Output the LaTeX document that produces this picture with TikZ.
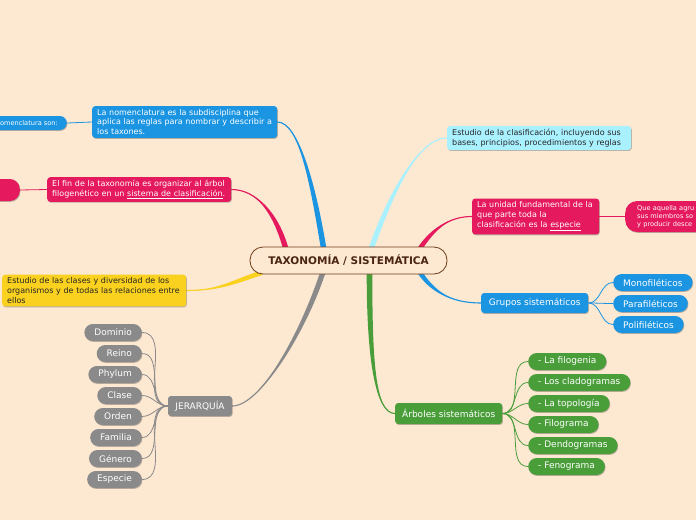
\documentclass[tikz,border=0pt]{standalone}
\usepackage{fontspec}
\setmainfont{DejaVu Sans}
\usetikzlibrary{positioning,calc,shadows}

\definecolor{peach}{HTML}{FDE8D2}
\definecolor{mapblue}{HTML}{1B95E2}
\definecolor{mappink}{HTML}{E5195D}
\definecolor{mapyellow}{HTML}{F9D11E}
\definecolor{mapcyan}{HTML}{AAF1FF}
\definecolor{mapgray}{HTML}{8A8A8A}
\definecolor{mapgreen}{HTML}{4A9E3A}
\definecolor{mapbrown}{HTML}{6E3B17}
\definecolor{maptext}{HTML}{4A2612}

\pgfdeclarelayer{bg}
\pgfdeclarelayer{links}
\pgfsetlayers{bg,links,main}

\newcommand\boxfont{\fontsize{8}{9.6}\selectfont}
\newcommand\pillfont{\fontsize{9}{10}\selectfont}
\newcommand\tinyfont{\fontsize{6.6}{8}\selectfont}

% tapered main branch: colour, from, to, out vector, in vector, half width
\newcommand\branch[6]{%
  \fill[#1] ($(#2)+#6$) .. controls +#4 and +#5 .. (#3)
    .. controls +#5 and +#4 .. ($(#2)-#6$) -- cycle;
  \draw[#1, line width=1.1pt] (#2) .. controls +#4 and +#5 .. (#3);
}

\begin{document}
\begin{tikzpicture}[
  x=1pt, y=-1pt,
  shade/.style={drop shadow={shadow xshift=0.6pt, shadow yshift=-0.9pt, opacity=0.25, fill=black}},
  box/.style={rounded corners=3pt, align=left, inner xsep=5pt, inner ysep=3.2pt, font=\boxfont, text=white, shade},
  leaf/.style={rounded corners=3pt, minimum height=20pt, inner xsep=5pt, font=\pillfont, text=white, shade},
  pill/.style={rounded corners=8.5pt, minimum height=17pt, inner xsep=10pt, inner ysep=0pt, font=\pillfont, text=white, shade},
  link/.style={line width=0.8pt}
]
\useasboundingbox (0,0) rectangle (696,520);
\begin{pgfonlayer}{bg}
  \fill[peach] (0,0) rectangle (696,520);
\end{pgfonlayer}

% centre
\node[draw=mapbrown, line width=0.8pt, fill=peach, rounded corners=13pt, minimum width=197pt, minimum height=27pt,
  font=\fontsize{10.5}{12}\selectfont\bfseries, text=maptext] (tax) at (348.5,260.5) {TAXONOMÍA / SISTEMÁTICA};

% left side
\node[box, fill=mapblue, text width=175pt, anchor=west] (nom) at (92,122)
  {La nomenclatura es la subdisciplina que\\aplica las reglas para nombrar y describir a\\los taxones.};
\node[pill, fill=mapblue, font=\tinyfont, rounded corners=7pt, minimum height=14pt, inner xsep=9pt, anchor=east] (nompill) at (67,123)
  {nomenclatura son:};
\node[box, fill=mappink, text width=174pt, anchor=west] (fin) at (47,189.5)
  {El fin de la taxonomía es organizar al árbol\\filogenético en un \underline{sistema de clasificación}.};
\node[pill, fill=mappink, rounded corners=10pt, minimum height=22pt, minimum width=70pt, anchor=east] (finpill) at (20,190) {};
\node[box, fill=mapyellow, text=black!85, text width=174pt, anchor=west] (yel) at (2,290.5)
  {Estudio de las clases y diversidad de los\\organismos y de todas las relaciones entre\\ellos};

% jerarquia
\node[leaf, fill=mapgray, minimum width=64pt] (jer) at (200,406) {JERARQUÍA};
\foreach \name/\txt [count=\i] in {dom/Dominio, rei/Reino, phy/Phylum, cla/Clase, ord/Orden, fam/Familia, gen/Género, esp/Especie}{
  \node[pill, fill=mapgray, anchor=east] (\name) at (142,311.5+21*\i) {\txt};
  \draw[link, mapgray] (jer.west) to[out=180, in=0] (\name.east);
}

% right side
\node[box, fill=mapcyan, text=black!85, text width=174pt, anchor=west] (cyan) at (447,138)
  {Estudio de la clasificación, incluyendo sus\\bases, principios, procedimientos y reglas};
\node[box, fill=mappink, text width=117pt, anchor=west, font=\fontsize{8}{9.9}\selectfont] (unidad) at (472,216.5)
  {La unidad fundamental de la\\que parte toda la\\clasificación es la \underline{especie}};
\node[pill, fill=mappink, font=\tinyfont, rounded corners=12pt, minimum height=31pt, text width=100pt, align=left, inner xsep=12pt, anchor=west] (quepill) at (625,216.5)
  {Que aquella agru\\sus miembros so\\y producir desce};
\draw[link, mappink] (unidad.east) -- (quepill.west);
\draw[link, mapblue] (nom.west) -- (nompill.east);
\draw[link, mappink] (fin.west) -- (finpill.east);

\node[leaf, fill=mapblue, minimum width=107pt, anchor=west] (grupos) at (481,303) {Grupos sistemáticos};
\foreach \name/\txt [count=\i] in {mono/Monofiléticos, para/Parafiléticos, poli/Polifiléticos}{
  \node[pill, fill=mapblue, anchor=west] (\name) at (613,261.5+21*\i) {\txt};
  \draw[link, mapblue] (grupos.east) to[out=0, in=180] (\name.west);
}

\node[leaf, fill=mapgreen, minimum width=107pt, minimum height=21pt, anchor=west] (arboles) at (395,413.5) {Árboles sistemáticos};
\foreach \name/\txt [count=\i] in {filo/- La filogenia, clado/- Los cladogramas, topo/- La topología, filogr/- Filograma, dendo/- Dendogramas, feno/- Fenograma}{
  \node[pill, fill=mapgreen, anchor=west] (\name) at (528,340.5+21*\i) {\txt};
  \draw[link, mapgreen] (arboles.east) to[out=0, in=180] (\name.west);
}

% main branches
\coordinate (b1) at ($(tax.north)+(-25,1)$);
\coordinate (b2) at ($(tax.north)+(-63,1)$);
\coordinate (b3) at ($(tax.south)+(-86,-2)$);
\coordinate (b4) at ($(tax.south)+(-26,-1)$);
\coordinate (b5) at ($(tax.north)+(23,1)$);
\coordinate (b6) at ($(tax.north)+(72,1)$);
\coordinate (b7) at ($(tax.south)+(72,-1)$);
\coordinate (b8) at ($(tax.south)+(21,-1)$);
\begin{pgfonlayer}{links}
  \branch{mapblue}{b1}{nom.east}{(-10,-60)}{(22,0)}{(2.8,0)}
  \branch{mappink}{b2}{fin.east}{(-10,-35)}{(25,0)}{(2.8,0)}
  \branch{mapyellow}{b3}{yel.east}{(-35,12)}{(30,0)}{(0,2.5)}
  \branch{mapgray}{b4}{jer.east}{(-20,60)}{(28,0)}{(2.8,0)}
  \branch{mapcyan}{b5}{cyan.west}{(18,-50)}{(-30,0)}{(2.8,0)}
  \branch{mappink}{b6}{unidad.west}{(15,-22)}{(-20,0)}{(2.8,0)}
  \branch{mapblue}{b7}{grupos.west}{(15,22)}{(-25,0)}{(2.8,0)}
  \branch{mapgreen}{b8}{arboles.west}{(0,85)}{(-20,0)}{(2.8,0)}
\end{pgfonlayer}
\end{tikzpicture}
\end{document}
